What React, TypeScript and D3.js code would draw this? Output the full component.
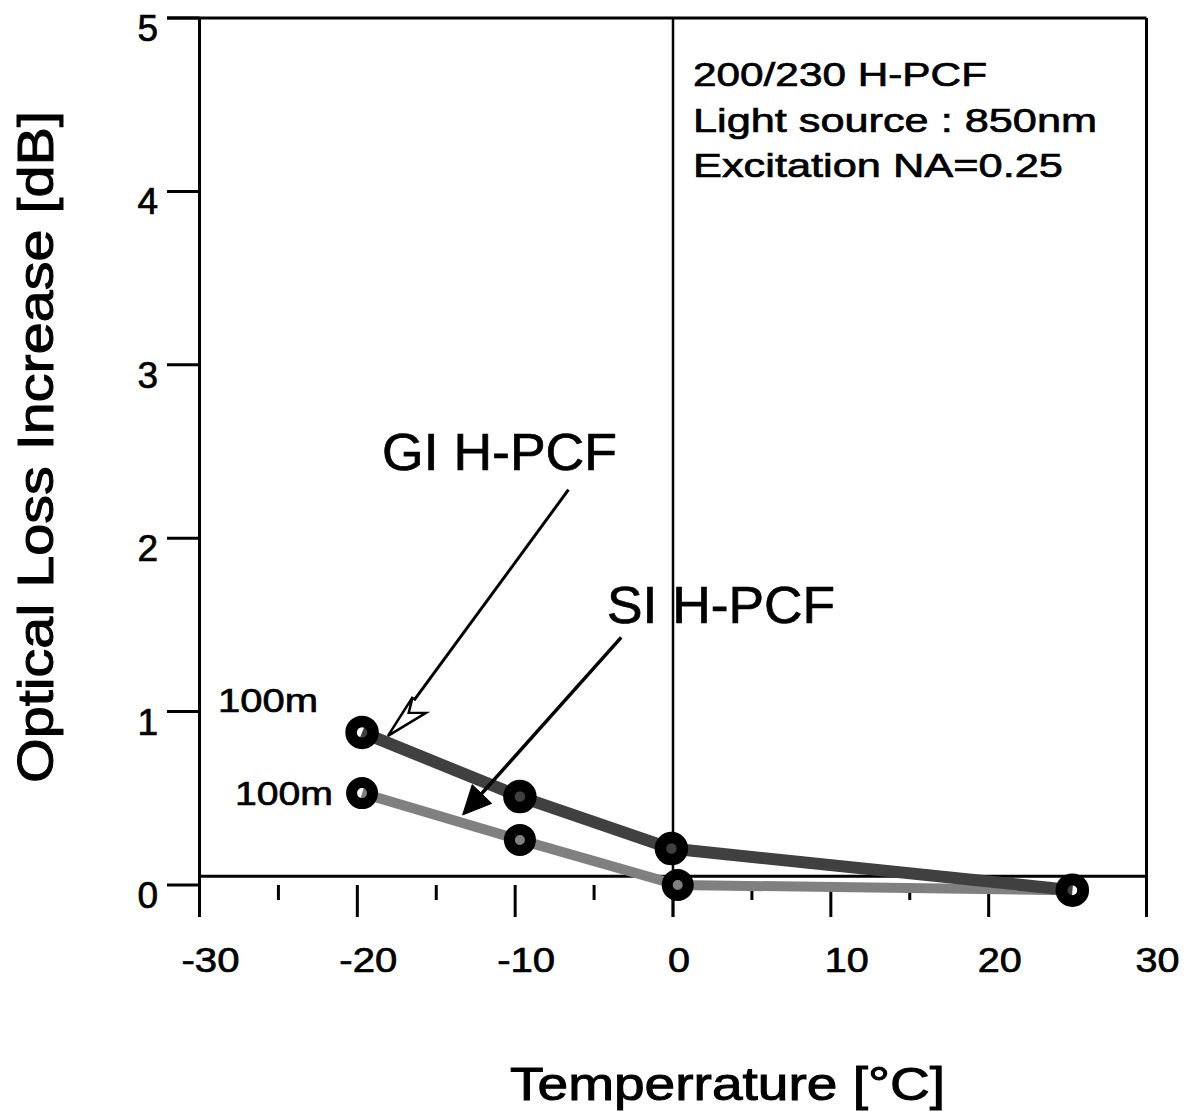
import React from "react";
import * as d3 from "d3";

// ---- data ----
const giTemps = [-19.7, -9.7, -0.1, 25.3];
const giLoss = [0.88, 0.51, 0.21, -0.03];
const siTemps = [-19.7, -9.7, 0.3, 25.3];
const siLoss = [0.53, 0.26, 0.0, -0.03];
const xMajorTicks = [-30, -20, -10, 0, 10, 20, 30];
const xMinorTicks = [-25, -15, -5, 5, 15, 25];
const yTicks = [0, 1, 2, 3, 4, 5];
const refLineValue = 0.05; // horizontal reference line level
const infoLines = ["200/230 H-PCF", "Light source : 850nm", "Excitation NA=0.25"];
const infoWidths = [294, 404, 370];
// arrow annotations in data coordinates [x, y]
const giArrow = { from: [-6.62, 2.28], to: [-18.06, 0.86] };
const siArrow = { from: [-3.28, 1.428], to: [-13.33, 0.404] };

const FONT = "'Liberation Sans', Arial, Helvetica, sans-serif";

export default function App() {
  const x = d3.scaleLinear().domain([-30, 30]).range([199.5, 1146.5]);
  const y = d3.scaleLinear().domain([0, 5]).range([885, 18]);
  const yTop = y(5);
  const yBottom = 917;

  const line = d3
    .line<[number, number]>()
    .x((d) => x(d[0]))
    .y((d) => y(d[1]));

  const giPts: [number, number][] = giTemps.map((t, i) => [t, giLoss[i]]);
  const siPts: [number, number][] = siTemps.map((t, i) => [t, siLoss[i]]);

  const arrowGeom = (a: { from: number[]; to: number[] }) => {
    const sx = x(a.from[0]), sy = y(a.from[1]);
    const tx = x(a.to[0]), ty = y(a.to[1]);
    const dx = tx - sx, dy = ty - sy;
    const len = Math.hypot(dx, dy);
    const ux = dx / len, uy = dy / len;
    const bx = -ux, by = -uy; // backwards
    const nx = -uy, ny = ux; // perpendicular
    const pt = (al: number, b: number) => [tx + bx * al + nx * b, ty + by * al + ny * b];
    return { sx, sy, tx, ty, pt };
  };

  const gi = arrowGeom(giArrow);
  const si = arrowGeom(siArrow);
  const giHead = [gi.pt(0, 0), gi.pt(46, 3), gi.pt(31, -3), gi.pt(41, -17)];
  const siHead = [si.pt(0, 0), si.pt(29, 13), si.pt(28, -14)];
  const giShaftEnd = gi.pt(44, 0);
  const siShaftEnd = si.pt(20, 0);

  const heavy = { stroke: "#000", strokeWidth: 0.7 };

  return (
    <svg
      width={1187}
      height={1111}
      style={{ position: "absolute", left: 0, top: 0, background: "#fff" }}
      fontFamily={FONT}
    >
      <rect x={0} y={0} width={1187} height={1111} fill="#fff" />
      {/* frame */}
      <line x1={167} x2={x(30)} y1={yTop} y2={yTop} stroke="#000" strokeWidth={3} />
      <line x1={x(-30)} x2={x(-30)} y1={yTop} y2={yBottom} stroke="#000" strokeWidth={3} />
      <line x1={x(30)} x2={x(30)} y1={yTop} y2={yBottom} stroke="#000" strokeWidth={3} />
      <line x1={x(0)} x2={x(0)} y1={yTop} y2={yBottom} stroke="#000" strokeWidth={2.5} />
      <line x1={x(-30)} x2={x(30)} y1={y(refLineValue)} y2={y(refLineValue)} stroke="#000" strokeWidth={3} />

      {/* y ticks */}
      {yTicks.map((t) => (
        <g key={"yt" + t}>
          <line x1={167} x2={x(-30)} y1={y(t)} y2={y(t)} stroke="#000" strokeWidth={3} />
          <text x={158} y={y(t) + 23} textAnchor="end" fontSize={37} fill="#000" {...heavy}>
            {t}
          </text>
        </g>
      ))}

      {/* x ticks */}
      {xMajorTicks.map((t) => (
        <g key={"xt" + t}>
          <line x1={x(t)} x2={x(t)} y1={y(0)} y2={yBottom} stroke="#000" strokeWidth={3} />
          <text
            x={x(t) + (t === 0 ? 6 : t === 10 ? 16 : 11)}
            y={972}
            textAnchor="middle"
            fontSize={35}
            fill="#000"
            textLength={t < 0 ? 58 : t === 0 ? 22 : 44}
            lengthAdjust="spacingAndGlyphs"
            {...heavy}
          >
            {t}
          </text>
        </g>
      ))}
      {xMinorTicks.map((t) => (
        <line key={"xm" + t} x1={x(t)} x2={x(t)} y1={y(0)} y2={900} stroke="#000" strokeWidth={3} />
      ))}

      {/* series lines */}
      <path d={line(siPts) || ""} fill="none" stroke="#808080" strokeWidth={10} />
      <path d={line(giPts) || ""} fill="none" stroke="#404040" strokeWidth={12} />

      {/* markers */}
      {siPts.map((p, i) => (
        <circle key={"sc" + i} cx={x(p[0])} cy={y(p[1])} r={10.5} fill="none" stroke="#000" strokeWidth={11} />
      ))}
      {giPts.map((p, i) => (
        <circle key={"gc" + i} cx={x(p[0])} cy={y(p[1])} r={11} fill="none" stroke="#000" strokeWidth={11.5} />
      ))}

      {/* arrows */}
      <line x1={gi.sx} y1={gi.sy} x2={giShaftEnd[0]} y2={giShaftEnd[1]} stroke="#000" strokeWidth={3} />
      <polygon
        points={giHead.map((p) => p.join(",")).join(" ")}
        fill="#fff"
        stroke="#000"
        strokeWidth={2.5}
        strokeLinejoin="miter"
      />
      <line x1={si.sx} y1={si.sy} x2={siShaftEnd[0]} y2={siShaftEnd[1]} stroke="#000" strokeWidth={3.5} />
      <polygon points={siHead.map((p) => p.join(",")).join(" ")} fill="#000" stroke="#000" strokeWidth={1} />

      {/* annotation text */}
      <text x={382} y={470} fontSize={51} fill="#000" textLength={235} lengthAdjust="spacingAndGlyphs" {...heavy}>
        GI H-PCF
      </text>
      <text x={607} y={623} fontSize={51} fill="#000" textLength={228} lengthAdjust="spacingAndGlyphs" {...heavy}>
        SI H-PCF
      </text>
      <text x={218} y={712} fontSize={34} fill="#000" textLength={100} lengthAdjust="spacingAndGlyphs" {...heavy}>
        100m
      </text>
      <text x={235} y={805} fontSize={34} fill="#000" textLength={98} lengthAdjust="spacingAndGlyphs" {...heavy}>
        100m
      </text>

      {/* info box text */}
      {infoLines.map((s, i) => (
        <text
          key={"info" + i}
          x={693}
          y={86 + i * 45.5}
          fontSize={34}
          fill="#000"
          textLength={infoWidths[i]}
          lengthAdjust="spacingAndGlyphs"
          {...heavy}
        >
          {s}
        </text>
      ))}

      {/* axis titles */}
      <text
        x={510}
        y={1100}
        fontSize={47}
        fill="#000"
        textLength={435}
        lengthAdjust="spacingAndGlyphs"
        stroke="#000"
        strokeWidth={1}
      >
        Temperrature [°C]
      </text>
      <text
        transform="translate(53,447) rotate(-90)"
        textAnchor="middle"
        fontSize={50}
        fill="#000"
        textLength={672}
        lengthAdjust="spacingAndGlyphs"
        stroke="#000"
        strokeWidth={1}
      >
        Optical Loss Increase [dB]
      </text>
    </svg>
  );
}
